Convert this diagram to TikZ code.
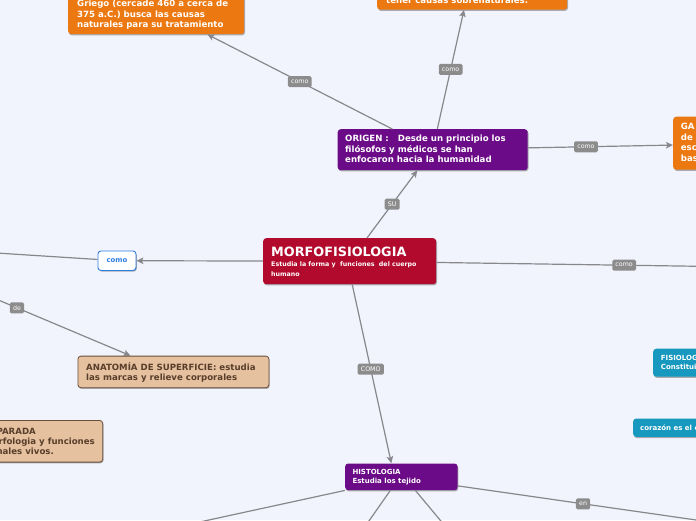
\documentclass[tikz,border=0pt]{standalone}
\usepackage{fontspec}
\setmainfont{DejaVu Sans}
\usetikzlibrary{shadows,arrows.meta,calc}
\definecolor{bg}{RGB}{242,244,253}
\definecolor{orng}{RGB}{236,120,17}
\definecolor{purp}{RGB}{107,11,135}
\definecolor{crim}{RGB}{178,10,44}
\definecolor{tan}{RGB}{229,193,160}
\definecolor{tanline}{RGB}{105,78,58}
\definecolor{tantext}{RGB}{88,62,42}
\definecolor{cyanb}{RGB}{23,152,190}
\definecolor{blueb}{RGB}{45,125,225}
\definecolor{cgray}{RGB}{135,135,140}
\definecolor{lgray}{RGB}{140,140,140}
\begin{document}
\begin{tikzpicture}[x=1pt,y=-1pt,
  boxbase/.style={rectangle, rounded corners=3pt, inner sep=0pt, anchor=north west,
    drop shadow={shadow xshift=0.8pt, shadow yshift=-1.2pt, opacity=0.3, fill=black}},
  obox/.style={boxbase, fill=orng},
  pbox/.style={boxbase, fill=purp},
  rbox/.style={boxbase, fill=crim},
  tbox/.style={boxbase, fill=tan, draw=tanline, line width=0.8pt},
  cbox/.style={boxbase, fill=cyanb},
  wbox/.style={boxbase, fill=white, draw=blueb, line width=0.9pt},
  wt/.style={text=white, font=\bfseries\fontsize{8.6}{10}\selectfont, inner sep=0pt, anchor=base west},
  wts/.style={text=white, font=\bfseries\fontsize{7}{8}\selectfont, inner sep=0pt, anchor=base west},
  tt/.style={text=tantext, font=\bfseries\fontsize{8.6}{10}\selectfont, inner sep=0pt},
  conn/.style={draw=cgray, line width=1.2pt},
  arr/.style={conn, -{Stealth[length=7pt,width=6.5pt,inset=1.5pt]}},
  lbl/.style={fill=lgray, text=white, font=\fontsize{6.3}{7}\selectfont, rounded corners=1.5pt,
    inner xsep=3.2pt, inner ysep=0pt, minimum height=11pt, draw=none}
]
\useasboundingbox (0,0) rectangle (696,520);
\fill[bg] (0,0) rectangle (696,520);
\clip (0,0) rectangle (696,520);

% ---------- boxes ----------
\node[obox, minimum width=176pt, minimum height=52pt] (hip) at (68,-18) {};
\node[obox, minimum width=190pt, minimum height=73.5pt] (sob) at (377,-64) {};
\node[pbox, minimum width=190pt, minimum height=41pt] (origen) at (337.5,129) {};
\node[obox, minimum width=194pt, minimum height=53pt] (ga) at (673,116.5) {};
\node[rbox, minimum width=173pt, minimum height=46pt] (morfo) at (263,238) {};
\node[wbox, minimum width=38pt, minimum height=19.5pt] (como) at (97.5,250.5) {};
\node[tbox, minimum width=191pt, minimum height=31.6pt] (anat) at (77.5,355.7) {};
\node[tbox, minimum width=202.3pt, minimum height=41.7pt] (comp) at (-100,420) {};
\node[pbox, minimum width=112.3pt, minimum height=26.7pt] (hist) at (345,463.3) {};
\node[cbox, minimum width=100pt, minimum height=28pt] (fis) at (653,348.5) {};
\node[cbox, minimum width=120pt, minimum height=18.4pt] (cor) at (633,418.3) {};

% ---------- texts ----------
\node[wt] (hipa) at (77,6.8) {Griego (cercade 460 a cerca de};
\node[wt] (hipb) at (77,17.1) {375 a.C.) busca las causas};
\node[wt] (hipc) at (77,27.3) {naturales para su tratamiento};
\node[wt] (soba) at (386,3) {tener causas sobrenaturales.};
\node[wt] (oria) at (345,141.7) {ORIGEN :\ \ \ Desde un principio los};
\node[wt] (orib) at (345,152.2) {filósofos y médicos se han};
\node[wt] (oric) at (345,162.7) {enfocaron hacia la humanidad};
\node[wt] (gaa) at (680.7,129.8) {GA};
\node[wt] (gab) at (680.7,140.3) {de};
\node[wt] (gac) at (680.7,150.8) {esc};
\node[wt] (gad) at (680.7,161.3) {bas};
\node[text=white, font=\bfseries\fontsize{12.8}{14}\selectfont, inner sep=0pt, anchor=base west] (mora) at (271,256) {MORFOFISIOLOGIA};
\node[text=white, font=\bfseries\fontsize{6.3}{7}\selectfont, inner sep=0pt, anchor=base west] (morb) at (271,266.7) {Estudia la forma y\ \ funciones\ \ del cuerpo};
\node[text=white, font=\bfseries\fontsize{6.3}{7}\selectfont, inner sep=0pt, anchor=base west] (morc) at (271,276.7) {humano};
\node[text=blueb, font=\bfseries\fontsize{6.9}{8}\selectfont, inner sep=0pt] (comot) at (como.center) {como};
\node[tt, anchor=base west] (anaa) at (86,370) {ANATOMÍA DE SUPERFICIE: estudia};
\node[tt, anchor=base west] (anab) at (86,380) {las marcas y relieve corporales};
\node[tt, anchor=base east] (compa) at (36,434) {PARADA};
\node[tt, anchor=base east] (compb) at (95,444.3) {rfologia y funciones};
\node[tt, anchor=base east] (compc) at (54,454.5) {nales vivos.};
\node[wts] (hista) at (352.3,474.3) {HISTOLOGIA};
\node[wts] (histb) at (352.3,483.3) {Estudia los tejido};
\node[wts] (fisa) at (660.7,360) {FISIOLOG};
\node[wts] (fisb) at (660.7,369.3) {Constituid};
\node[wts] (cora) at (640,430) {corazón es el c};

% ---------- free ends ----------
\coordinate (cl) at (-10,252.6);
\coordinate (mr) at (720,266.6);
\coordinate (dl) at (-10,296.5);
\coordinate (hl) at (150,532.8);
\coordinate (hb1) at (362.6,530);
\coordinate (hb2) at (448.4,530);
\coordinate (hr) at (720,523.4);

% ---------- connectors ----------
\draw[arr] (morfo) -- node[lbl] (lsu) {SU} (origen);
\draw[arr] (origen) -- node[lbl] (lc1) {como} (hip);
\draw[arr] (origen) -- node[lbl] (lc2) {como} (sob);
\draw[arr] (origen) -- node[lbl, pos=0.40] (lc3) {como} (ga);
\draw[arr] (morfo) -- (como);
\draw[conn] (como) -- (cl);
\draw[conn] (morfo) -- node[lbl, pos=0.662] (lc4) {como} (mr);
\draw[arr] ($(morfo.south)+(2.5,0)$) -- node[lbl, pos=0.474] (lc5) {COMO} ($(hist.north)+(-10,0)$);
\draw[arr] (dl) -- node[lbl, pos=0.192] (lde) {de} ($(anat.north west)+(53,0)$);
\draw[conn] (hist.south west) -- (hl);
\draw[conn] ($(hist.south)+(-11,0)$) -- (hb1);
\draw[conn] ($(hist.south)+(14,0)$) -- (hb2);
\draw[conn] ($(hist.east)+(0,9)$) -- node[lbl, pos=0.478] (len) {en} (hr);
\end{tikzpicture}
\end{document}
